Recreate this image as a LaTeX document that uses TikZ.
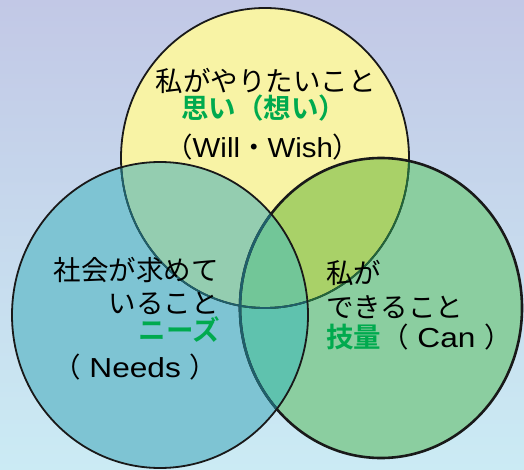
\documentclass[tikz,border=0pt]{standalone}
\usepackage{fontspec}
\setmainfont{Liberation Sans}
\newfontfamily\jp{Noto Sans CJK JP}
\newfontfamily\jpb{Noto Sans CJK JP Bold}
\newfontfamily\latw[FakeStretch=1.15]{Liberation Sans}
\newfontfamily\latt[FakeStretch=1.07]{Liberation Sans}
\begin{document}
\begin{tikzpicture}[x=1pt,y=-1pt,
  lbl/.style={inner sep=0pt, font=\fontsize{27.5}{33}\selectfont, text=black},
  grn/.style={text=jpgreen},
  bord/.style={line width=1.8pt},
  bordR/.style={line width=2.6pt}]
\definecolor{bgtop}{HTML}{C2C8E6}
\definecolor{bgmid}{HTML}{C8DAF1}
\definecolor{bgbot}{HTML}{CBEBF4}
\definecolor{yel}{HTML}{F8F3A5}
\definecolor{lft}{HTML}{7EC4D3}
\definecolor{rgt}{HTML}{8BCEA0}
\definecolor{lt}{HTML}{94CDB0}
\definecolor{rt}{HTML}{A9D168}
\definecolor{lr}{HTML}{5FC2AE}
\definecolor{lrt}{HTML}{72C698}
\definecolor{jpgreen}{HTML}{00AA4E}
\definecolor{teal}{HTML}{1F5F6A}
\definecolor{dgreen}{HTML}{22663A}
\useasboundingbox (0,0) rectangle (524,470);
\clip (0,0) rectangle (524,470);
\shade[top color=bgtop, middle color=bgmid, bottom color=bgbot] (0,0) rectangle (524,470);
% region fills
\fill[yel] (265,158) ellipse [x radius=144pt, y radius=150pt];
\fill[rgt] (381,308) ellipse [x radius=141pt, y radius=150pt];
\begin{scope}
  \clip (381,308) ellipse [x radius=141pt, y radius=150pt];
  \fill[rt] (265,158) ellipse [x radius=144pt, y radius=150pt];
\end{scope}
\fill[lft] (160,315) ellipse [x radius=148pt, y radius=153pt];
\begin{scope}
  \clip (160,315) ellipse [x radius=148pt, y radius=153pt];
  \fill[lt] (265,158) ellipse [x radius=144pt, y radius=150pt];
  \fill[lr] (381,308) ellipse [x radius=141pt, y radius=150pt];
  \clip (381,308) ellipse [x radius=141pt, y radius=150pt];
  \fill[lrt] (265,158) ellipse [x radius=144pt, y radius=150pt];
\end{scope}
% borders
\draw[bord, black!90] (265,158) ellipse [x radius=144pt, y radius=150pt];
\begin{scope}
  \clip (381,308) ellipse [x radius=141pt, y radius=150pt];
  \draw[bord, dgreen] (265,158) ellipse [x radius=144pt, y radius=150pt];
\end{scope}
\draw[bordR, black!90] (381,308) ellipse [x radius=141pt, y radius=150pt];
\begin{scope}
  \clip (160,315) ellipse [x radius=148pt, y radius=153pt];
  \draw[bord, teal] (265,158) ellipse [x radius=144pt, y radius=150pt];
  \draw[bordR, teal] (381,308) ellipse [x radius=141pt, y radius=150pt];
\end{scope}
\draw[bord, black!90] (160,315) ellipse [x radius=148pt, y radius=153pt];
% texts: top circle
\node[lbl] (t1) at (265.5,81) {\jp 私がやりたいこと};
\node[lbl, grn, anchor=west] (t2) at (181,108) {\jpb 思い（想い）};
\node[lbl, anchor=west] (t3) at (165,147) {{\jp （}{\latt Will}{\jp ・}{\latt Wish}{\jp ）}};
% left circle
\node[lbl, anchor=east] (l1) at (219,270) {\jp 社会が求めて};
\node[lbl, anchor=east] (l2) at (219,303) {\jp いること};
\node[lbl, grn, anchor=east] (l3) at (220,330) {\jpb ニーズ};
\node[lbl, anchor=west] (l4) at (53,367) {{\jp （}{\latw\ Needs\ }{\jp ）}};
% right circle
\node[lbl, anchor=west] (r1) at (326,273) {\jp 私が};
\node[lbl, anchor=west] (r2) at (326,307) {\jp できること};
\node[lbl, anchor=west] (r3) at (326,337) {{\jpb\color{jpgreen}技量}{\jp （}{\latw\ Can\ }{\jp ）}};
\end{tikzpicture}
\end{document}
